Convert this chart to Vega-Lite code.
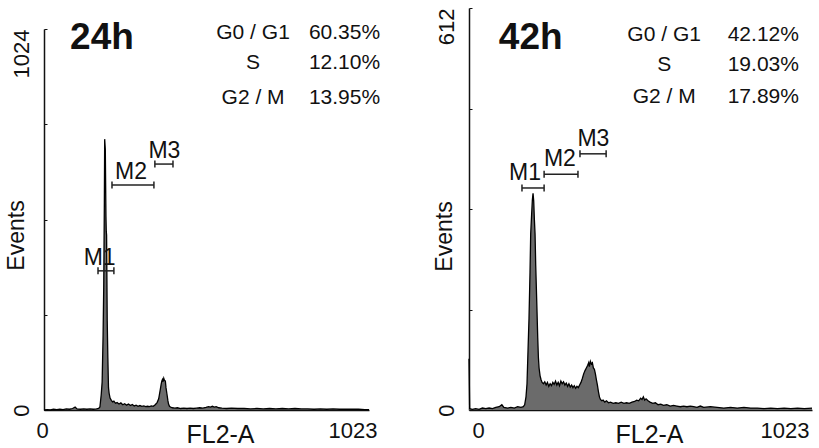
{
  "$schema": "https://vega.github.io/schema/vega-lite/v6.json",
  "padding": {"left": 5, "top": 7, "right": 0, "bottom": 0},
  "background": "white",
  "spacing": 52,
  "config": {
    "view": {"stroke": null},
    "font": "Liberation Sans",
    "axis": {"domainColor": "#111", "domainWidth": 1.5, "tickColor": "#111", "labelColor": "#111", "titleColor": "#111", "labelFont": "Liberation Sans", "titleFont": "Liberation Sans", "grid": false, "titleFontWeight": "normal"},
    "text": {"font": "Liberation Sans", "color": "#111"}
  },
  "datasets": {
    "h24": [
      {"ch":0,"n":0},{"ch":10,"n":1},{"ch":20,"n":0},{"ch":30,"n":2},{"ch":40,"n":1},{"ch":50,"n":2},{"ch":60,"n":1},{"ch":70,"n":3},{"ch":80,"n":2},{"ch":90,"n":4},{"ch":98,"n":8},{"ch":104,"n":3},{"ch":115,"n":2},{"ch":125,"n":3},{"ch":135,"n":2},{"ch":145,"n":3},{"ch":155,"n":2},{"ch":165,"n":3},{"ch":172,"n":4},{"ch":176,"n":8},{"ch":180,"n":40},{"ch":183,"n":75},{"ch":186,"n":200},{"ch":188,"n":330},{"ch":190,"n":560},{"ch":191,"n":728},{"ch":193,"n":700},{"ch":195,"n":520},{"ch":196,"n":480},{"ch":197,"n":470},{"ch":199,"n":240},{"ch":201,"n":140},{"ch":203,"n":60},{"ch":205,"n":45},{"ch":208,"n":32},{"ch":212,"n":26},{"ch":216,"n":22},{"ch":220,"n":24},{"ch":225,"n":18},{"ch":230,"n":20},{"ch":236,"n":16},{"ch":242,"n":19},{"ch":248,"n":14},{"ch":254,"n":17},{"ch":260,"n":13},{"ch":266,"n":16},{"ch":272,"n":12},{"ch":278,"n":15},{"ch":284,"n":11},{"ch":290,"n":13},{"ch":296,"n":10},{"ch":302,"n":12},{"ch":308,"n":10},{"ch":314,"n":11},{"ch":320,"n":9},{"ch":326,"n":10},{"ch":332,"n":9},{"ch":338,"n":11},{"ch":344,"n":10},{"ch":350,"n":14},{"ch":356,"n":20},{"ch":361,"n":30},{"ch":364,"n":45},{"ch":366,"n":55},{"ch":369,"n":70},{"ch":371,"n":78},{"ch":373,"n":82},{"ch":375,"n":76},{"ch":377,"n":85},{"ch":379,"n":80},{"ch":382,"n":78},{"ch":384,"n":60},{"ch":387,"n":43},{"ch":390,"n":25},{"ch":392,"n":16},{"ch":395,"n":10},{"ch":398,"n":8},{"ch":404,"n":6},{"ch":412,"n":5},{"ch":420,"n":6},{"ch":430,"n":4},{"ch":440,"n":5},{"ch":450,"n":4},{"ch":460,"n":5},{"ch":470,"n":4},{"ch":480,"n":5},{"ch":490,"n":6},{"ch":500,"n":5},{"ch":510,"n":7},{"ch":518,"n":9},{"ch":524,"n":8},{"ch":530,"n":10},{"ch":536,"n":8},{"ch":542,"n":9},{"ch":550,"n":6},{"ch":560,"n":5},{"ch":575,"n":4},{"ch":590,"n":5},{"ch":610,"n":4},{"ch":630,"n":4},{"ch":650,"n":3},{"ch":670,"n":4},{"ch":690,"n":3},{"ch":710,"n":4},{"ch":730,"n":3},{"ch":750,"n":4},{"ch":770,"n":3},{"ch":790,"n":4},{"ch":810,"n":3},{"ch":830,"n":3},{"ch":850,"n":2},{"ch":870,"n":3},{"ch":890,"n":2},{"ch":910,"n":3},{"ch":930,"n":2},{"ch":950,"n":2},{"ch":970,"n":2},{"ch":990,"n":2},{"ch":1010,"n":1},{"ch":1023,"n":1}
    ],
    "h42": [
      {"ch":0,"n":78},{"ch":2,"n":2},{"ch":10,"n":1},{"ch":20,"n":2},{"ch":30,"n":1},{"ch":40,"n":3},{"ch":50,"n":2},{"ch":60,"n":3},{"ch":70,"n":2},{"ch":80,"n":4},{"ch":90,"n":5},{"ch":98,"n":8},{"ch":104,"n":4},{"ch":115,"n":3},{"ch":125,"n":4},{"ch":135,"n":3},{"ch":145,"n":5},{"ch":155,"n":4},{"ch":162,"n":5},{"ch":166,"n":8},{"ch":170,"n":20},{"ch":173,"n":40},{"ch":176,"n":90},{"ch":179,"n":140},{"ch":182,"n":210},{"ch":184,"n":268},{"ch":187,"n":300},{"ch":189,"n":320},{"ch":191,"n":330},{"ch":193,"n":318},{"ch":195,"n":290},{"ch":197,"n":268},{"ch":199,"n":220},{"ch":202,"n":166},{"ch":205,"n":110},{"ch":207,"n":80},{"ch":209,"n":64},{"ch":212,"n":52},{"ch":215,"n":46},{"ch":218,"n":42},{"ch":222,"n":40},{"ch":226,"n":43},{"ch":230,"n":38},{"ch":234,"n":42},{"ch":238,"n":36},{"ch":242,"n":40},{"ch":246,"n":37},{"ch":250,"n":42},{"ch":254,"n":39},{"ch":258,"n":44},{"ch":262,"n":38},{"ch":266,"n":42},{"ch":270,"n":37},{"ch":274,"n":44},{"ch":278,"n":40},{"ch":282,"n":43},{"ch":286,"n":38},{"ch":290,"n":41},{"ch":294,"n":36},{"ch":298,"n":40},{"ch":302,"n":35},{"ch":306,"n":38},{"ch":310,"n":34},{"ch":314,"n":37},{"ch":318,"n":33},{"ch":322,"n":36},{"ch":326,"n":34},{"ch":330,"n":38},{"ch":334,"n":42},{"ch":338,"n":48},{"ch":342,"n":55},{"ch":346,"n":60},{"ch":350,"n":64},{"ch":354,"n":68},{"ch":357,"n":72},{"ch":359,"n":66},{"ch":362,"n":74},{"ch":365,"n":70},{"ch":368,"n":72},{"ch":371,"n":64},{"ch":374,"n":62},{"ch":377,"n":55},{"ch":380,"n":46},{"ch":383,"n":38},{"ch":386,"n":28},{"ch":389,"n":20},{"ch":392,"n":16},{"ch":396,"n":14},{"ch":400,"n":15},{"ch":405,"n":12},{"ch":410,"n":14},{"ch":416,"n":11},{"ch":422,"n":12},{"ch":430,"n":10},{"ch":438,"n":11},{"ch":446,"n":10},{"ch":454,"n":12},{"ch":462,"n":10},{"ch":470,"n":11},{"ch":478,"n":10},{"ch":486,"n":12},{"ch":494,"n":13},{"ch":500,"n":15},{"ch":506,"n":14},{"ch":512,"n":18},{"ch":516,"n":16},{"ch":520,"n":20},{"ch":524,"n":15},{"ch":528,"n":17},{"ch":534,"n":14},{"ch":540,"n":12},{"ch":548,"n":10},{"ch":556,"n":11},{"ch":564,"n":8},{"ch":572,"n":9},{"ch":580,"n":7},{"ch":590,"n":8},{"ch":600,"n":6},{"ch":610,"n":7},{"ch":620,"n":6},{"ch":630,"n":5},{"ch":640,"n":6},{"ch":650,"n":5},{"ch":660,"n":6},{"ch":670,"n":5},{"ch":680,"n":4},{"ch":690,"n":6},{"ch":700,"n":4},{"ch":720,"n":5},{"ch":740,"n":4},{"ch":760,"n":3},{"ch":780,"n":4},{"ch":800,"n":3},{"ch":820,"n":4},{"ch":840,"n":3},{"ch":860,"n":3},{"ch":880,"n":2},{"ch":900,"n":3},{"ch":920,"n":2},{"ch":940,"n":3},{"ch":960,"n":2},{"ch":980,"n":3},{"ch":1000,"n":2},{"ch":1023,"n":3}
    ],
    "m24": [
      {"m":"M1","x1":170,"x2":220,"y":374,"lx":175},
      {"m":"M2","x1":214,"x2":346,"y":605,"lx":274},
      {"m":"M3","x1":349,"x2":406,"y":661,"lx":379}
    ],
    "m42": [
      {"m":"M1","x1":158,"x2":224,"y":338,"lx":167},
      {"m":"M2","x1":224,"x2":325,"y":359,"lx":271},
      {"m":"M3","x1":331,"x2":409,"y":390,"lx":371}
    ],
    "s24": [
      {"phase":"G0 / G1","pct":"60.35%","y":1013},
      {"phase":"S","pct":"12.10%","y":933},
      {"phase":"G2 / M","pct":"13.95%","y":838}
    ],
    "s42": [
      {"phase":"G0 / G1","pct":"42.12%","y":571},
      {"phase":"S","pct":"19.03%","y":525},
      {"phase":"G2 / M","pct":"17.89%","y":476}
    ]
  },
  "hconcat": [
    {
      "vconcat": [
        {
          "width": 325,
          "height": 21,
          "data": {"values": [{"t": ""}]},
          "mark": {"type": "text"},
          "encoding": {"text": {"field": "t"}}
        },
        {
          "width": 325,
          "height": 381,
          "layer": [
            {
              "data": {"name": "h24"},
              "mark": {"type": "area", "color": "#6b6b6b", "opacity": 1, "fillOpacity": 1, "line": {"color": "#000", "strokeWidth": 1.3, "opacity": 1}},
              "encoding": {
                "x": {"field": "ch", "type": "quantitative", "scale": {"domain": [0, 1023], "nice": false, "zero": false},
                      "axis": {"values": [0, 1023], "format": "d", "ticks": false, "labelFontSize": 22, "labelPadding": 10, "labelFlush": true, "labelFlushOffset": 8,
                               "title": "FL2-A", "titleFontSize": 25, "titleX": 176, "titleY": 24, "titleBaseline": "middle", "titleAlign": "center"}},
                "y": {"field": "n", "type": "quantitative", "scale": {"domain": [0, 1024], "nice": false},
                      "axis": {"values": [0, 256, 512, 768, 1024], "format": "d", "labelExpr": "datum.value == 0 || datum.value == 1024 ? datum.label : ''",
                               "labelAngle": -90, "labelAlign": {"condition": {"test": "datum.value == 0", "value": "center"}, "value": "right"}, "labelBaseline": "bottom",
                               "tickSize": -3, "labelFontSize": 22, "labelPadding": 14,
                               "title": "Events", "titleFontSize": 23, "titleX": -28, "titleY": 206, "titleBaseline": "middle", "titleAlign": "center"}}
              }
            },
            {
              "data": {"name": "m24"},
              "mark": {"type": "rule", "color": "#222", "strokeWidth": 1.5},
              "encoding": {"x": {"field": "x1", "type": "quantitative"}, "x2": {"field": "x2"}, "y": {"field": "y", "type": "quantitative"}}
            },
            {
              "data": {"name": "m24"},
              "mark": {"type": "tick", "orient": "vertical", "color": "#222", "size": 7, "thickness": 1.5, "opacity": 1},
              "encoding": {"x": {"field": "x1", "type": "quantitative"}, "y": {"field": "y", "type": "quantitative"}}
            },
            {
              "data": {"name": "m24"},
              "mark": {"type": "tick", "orient": "vertical", "color": "#222", "size": 7, "thickness": 1.5, "opacity": 1},
              "encoding": {"x": {"field": "x2", "type": "quantitative"}, "y": {"field": "y", "type": "quantitative"}}
            },
            {
              "data": {"name": "m24"},
              "mark": {"type": "text", "fontSize": 23, "baseline": "alphabetic", "dy": -6},
              "encoding": {"x": {"field": "lx", "type": "quantitative"}, "y": {"field": "y", "type": "quantitative"}, "text": {"field": "m"}}
            },
            {
              "data": {"name": "s24"},
              "mark": {"type": "text", "fontSize": 21, "align": "center", "baseline": "middle"},
              "encoding": {"x": {"datum": 658}, "y": {"field": "y", "type": "quantitative"}, "text": {"field": "phase"}}
            },
            {
              "data": {"name": "s24"},
              "mark": {"type": "text", "fontSize": 21, "align": "right", "baseline": "middle"},
              "encoding": {"x": {"datum": 1058}, "y": {"field": "y", "type": "quantitative"}, "text": {"field": "pct"}}
            },
            {
              "data": {"values": [{"t": "24h"}]},
              "mark": {"type": "text", "fontSize": 37, "fontWeight": "bold", "align": "left", "baseline": "middle"},
              "encoding": {"x": {"datum": 82}, "y": {"datum": 1000}, "text": {"field": "t"}}
            }
          ]
        }
      ],
      "spacing": 0,
      "bounds": "flush"
    },
    {
      "width": 343,
      "height": 402,
      "layer": [
        {
          "data": {"name": "h42"},
          "mark": {"type": "area", "color": "#6b6b6b", "opacity": 1, "fillOpacity": 1, "line": {"color": "#000", "strokeWidth": 1.3, "opacity": 1}},
          "encoding": {
            "x": {"field": "ch", "type": "quantitative", "scale": {"domain": [0, 1023], "nice": false, "zero": false},
                  "axis": {"values": [0, 1023], "format": "d", "ticks": false, "labelFontSize": 22, "labelPadding": 10, "labelFlush": true, "labelFlushOffset": -3,
                           "title": "FL2-A", "titleFontSize": 25, "titleX": 180, "titleY": 24, "titleBaseline": "middle", "titleAlign": "center"}},
            "y": {"field": "n", "type": "quantitative", "scale": {"domain": [0, 612], "nice": false},
                  "axis": {"values": [0, 153, 306, 459, 612], "format": "d", "labelExpr": "datum.value == 0 || datum.value == 612 ? datum.label : ''",
                           "labelAngle": -90, "labelAlign": {"condition": {"test": "datum.value == 0", "value": "center"}, "value": "right"}, "labelBaseline": "bottom",
                           "tickSize": -3, "labelFontSize": 22, "labelPadding": 14,
                           "title": "Events", "titleFontSize": 23, "titleX": -25, "titleY": 228, "titleBaseline": "middle", "titleAlign": "center"}}
          }
        },
        {
          "data": {"name": "m42"},
          "mark": {"type": "rule", "color": "#222", "strokeWidth": 1.5},
          "encoding": {"x": {"field": "x1", "type": "quantitative"}, "x2": {"field": "x2"}, "y": {"field": "y", "type": "quantitative"}}
        },
        {
          "data": {"name": "m42"},
          "mark": {"type": "tick", "orient": "vertical", "color": "#222", "size": 7, "thickness": 1.5, "opacity": 1},
          "encoding": {"x": {"field": "x1", "type": "quantitative"}, "y": {"field": "y", "type": "quantitative"}}
        },
        {
          "data": {"name": "m42"},
          "mark": {"type": "tick", "orient": "vertical", "color": "#222", "size": 7, "thickness": 1.5, "opacity": 1},
          "encoding": {"x": {"field": "x2", "type": "quantitative"}, "y": {"field": "y", "type": "quantitative"}}
        },
        {
          "data": {"name": "m42"},
          "mark": {"type": "text", "fontSize": 23, "baseline": "alphabetic", "dy": -8},
          "encoding": {"x": {"field": "lx", "type": "quantitative"}, "y": {"field": "y", "type": "quantitative"}, "text": {"field": "m"}}
        },
        {
          "data": {"name": "s42"},
          "mark": {"type": "text", "fontSize": 21, "align": "center", "baseline": "middle"},
          "encoding": {"x": {"datum": 582}, "y": {"field": "y", "type": "quantitative"}, "text": {"field": "phase"}}
        },
        {
          "data": {"name": "s42"},
          "mark": {"type": "text", "fontSize": 21, "align": "right", "baseline": "middle"},
          "encoding": {"x": {"datum": 984}, "y": {"field": "y", "type": "quantitative"}, "text": {"field": "pct"}}
        },
        {
          "data": {"values": [{"t": "42h"}]},
          "mark": {"type": "text", "fontSize": 37, "fontWeight": "bold", "align": "left", "baseline": "middle"},
          "encoding": {"x": {"datum": 89}, "y": {"datum": 566}, "text": {"field": "t"}}
        }
      ]
    }
  ]
}
